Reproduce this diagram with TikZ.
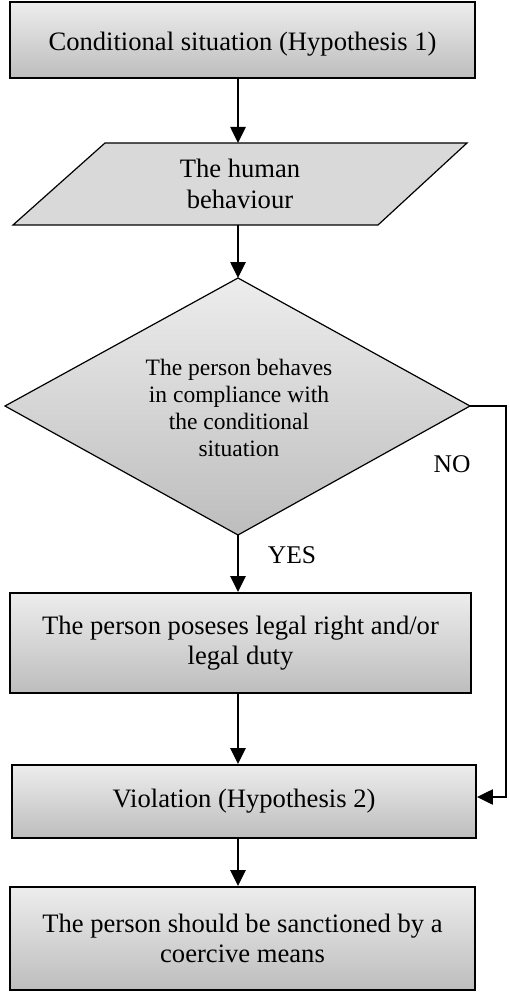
\documentclass[tikz,border=0pt]{standalone}
\usepackage{fontspec}
\setmainfont{Liberation Serif}
\usetikzlibrary{arrows.meta}
\definecolor{gtop}{HTML}{EDEDED}
\definecolor{gbot}{HTML}{BDBDBD}
\definecolor{parafill}{HTML}{D9D9D9}
\begin{document}
\begin{tikzpicture}[x=1pt,y=-1pt,
  boxstyle/.style={draw=black, line width=1.8pt, top color=gtop, bottom color=gbot,
    inner sep=0pt, align=center, font=\fontsize{26.6}{30.5}\selectfont},
  shapeline/.style={draw=black, line width=1.2pt},
  difont/.style={align=center, inner sep=0pt, font=\fontsize{23.5}{27.3}\selectfont},
  lblstyle/.style={inner sep=0pt, font=\fontsize{25.5}{30}\selectfont},
  arr/.style={line width=2.6pt, -{Triangle[length=16pt,width=15pt]}},
  noline/.style={line width=2.2pt, -{Triangle[length=16pt,width=15pt]}}]
\useasboundingbox (0,0) rectangle (509,992);

% boxes
\node[boxstyle, minimum width=465pt, minimum height=76pt, text height=26pt] (b1) at (242.5,40) {Conditional situation (Hypothesis 1)};
\node[boxstyle, minimum width=461pt, minimum height=100pt] (b2) at (240.5,643) {The person poseses legal right and/or\\legal duty};
\node[boxstyle, minimum width=464pt, minimum height=73pt] (b3) at (244,801.5) {Violation (Hypothesis 2)};
\node[boxstyle, minimum width=465pt, minimum height=103pt] (b4) at (242.5,938.5) {The person should be sanctioned by a\\coercive means};

% parallelogram
\coordinate (pTL) at (105,143);
\coordinate (pTR) at (467,143);
\coordinate (pBR) at (378,225);
\coordinate (pBL) at (13,225);
\path[shapeline, fill=parafill] (pTL) -- (pTR) -- (pBR) -- (pBL) -- cycle;
\node[align=center, inner sep=0pt, font=\fontsize{26.6}{30.5}\selectfont] (hb) at (240,184) {The human\\behaviour};
\coordinate (pTop) at (238,143);
\coordinate (pBot) at (238,225);

% diamond
\coordinate (dT) at (238,278);
\coordinate (dL) at (5,406);
\coordinate (dR) at (470,406);
\coordinate (dB) at (238,535);
\path[shapeline, top color=gtop, bottom color=gbot] (dT) -- (dR) -- (dB) -- (dL) -- cycle;
\node[difont] (dt) at (239,408) {The person behaves\\in compliance with\\the conditional\\situation};

% column for connectors
\coordinate (ax) at (238,0);

\draw[arr] (b1.south -| ax) -- (pTop);
\draw[arr] (pBot) -- (dT);
\draw[arr] (dB) -- (b2.north -| ax);
\draw[arr] (b2.south -| ax) -- (b3.north -| ax);
\draw[arr] (b3.south -| ax) -- (b4.north -| ax);

% NO branch
\coordinate (n1) at (506,406);
\coordinate (n2) at (506,797);
\draw[noline] (dR) -- (n1) -- (n2) -- (b3.east |- n2);

\node[lblstyle] (no) at (452,464) {NO};
\node[lblstyle] (yes) at (292,555) {YES};
\end{tikzpicture}
\end{document}
